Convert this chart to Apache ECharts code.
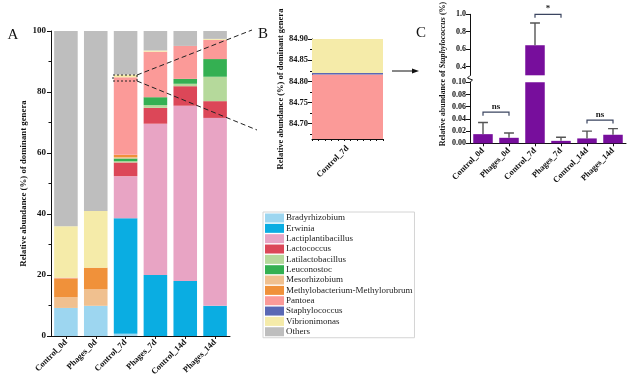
<!DOCTYPE html>
<html><head><meta charset="utf-8">
<script src="https://cdn.jsdelivr.net/npm/echarts@6/dist/echarts.min.js"></script>
<style>html,body{margin:0;padding:0;background:#fff}#c{width:638px;height:387px}</style>
</head><body><div id="c"></div>
<script>
// ---------- data ----------
const groups = ['Control_0d','Phages_0d','Control_7d','Phages_7d','Control_14d','Phages_14d'];
const genera = ['Bradyrhizobium','Erwinia','Lactiplantibacillus','Lactococcus','Latilactobacillus','Leuconostoc','Mesorhizobium','Methylobacterium-Methylorubrum','Pantoea','Staphylococcus','Vibrionimonas','Others'];
const generaColors = ['#9dd6f0','#0aade2','#e8a4c4','#dc4758','#b5d99b','#34b052','#f0c08f','#f0913a','#fb9a98','#5a68b4','#f5eba9','#bebebe'];
// relative abundance (%) of each genus per group
const bradyrhizobium      = [9.2, 9.9, 0.7, 0, 0, 0];
const erwinia             = [0, 0, 37.9, 20.0, 18.0, 9.9];
const lactiplantibacillus = [0, 0, 13.8, 49.6, 57.5, 61.6];
const lactococcus         = [0, 0, 4.5, 5.2, 6.4, 5.5];
const latilactobacillus   = [0, 0, 0.4, 0.9, 0.8, 8.0];
const leuconostoc         = [0, 0, 0.9, 2.6, 1.6, 5.8];
const mesorhizobium       = [3.5, 5.4, 0.4, 0, 0, 0];
const methylobacterium    = [6.2, 7.1, 0.8, 0, 0, 0];
const pantoea             = [0.2, 0, 25.416, 14.9, 10.8, 6.3];
const staphylococcus      = [0.015, 0.009, 0.004, 0.004, 0.008, 0.014];
const vibrionimonas       = [16.9, 18.6, 0.88, 0.4, 0, 0.3];
const others              = [64.0, 59.0, 14.3, 6.4, 4.9, 2.6];
const genusValues = [bradyrhizobium, erwinia, lactiplantibacillus, lactococcus, latilactobacillus, leuconostoc, mesorhizobium, methylobacterium, pantoea, staphylococcus, vibrionimonas, others];
// panel B zoom range
const zoomMin = 84.664, zoomMax = 84.90;
const zoomLabels = [84.70, 84.75, 84.80, 84.85, 84.90];
const zoomMinorTicks = [84.675, 84.725, 84.775, 84.825, 84.875];
// panel C: Staphylococcus relative abundance (%)
const staphMean = [0.015, 0.009, 0.645, 0.004, 0.008, 0.014];
const staphUpper = [0.034, 0.017, 0.900, 0.010, 0.020, 0.024];
const upperLabels = [0.4, 0.6, 0.8, 1.0];
// significance brackets: [from, to, level, label]
const sigLower = [[0, 1, 0.051, 'ns'], [4, 5, 0.038, 'ns']];
const sigUpper = [[2, 3, 1.0, '*']];

// ---------- chart ----------
const SERIF = '"Liberation Serif", "DejaVu Serif", serif';
const chart = echarts.init(document.getElementById('c'), null, {renderer: 'canvas'});
const axisLine = {show: true, lineStyle: {color: '#111', width: 1}};
const lbl = (size) => ({fontFamily: SERIF, fontWeight: 'bold', fontSize: size, color: '#111'});

const series = [];
genera.forEach((g, k) => {
  series.push({name: g, type: 'bar', stack: 'A', xAxisIndex: 0, yAxisIndex: 0,
    data: genusValues[k], itemStyle: {color: generaColors[k]}, barCategoryGap: '21%', animation: false});
});
genera.forEach((g, k) => {
  series.push({name: g, type: 'bar', stack: 'B', xAxisIndex: 1, yAxisIndex: 1, clip: true,
    data: [genusValues[k][2]], itemStyle: {color: generaColors[k]}, barWidth: '100%', animation: false});
});
const purple = '#770e9c';
series.push({type: 'bar', xAxisIndex: 3, yAxisIndex: 3, data: staphMean, clip: true, barCategoryGap: '25%', itemStyle: {color: purple}, animation: false});
series.push({type: 'bar', xAxisIndex: 4, yAxisIndex: 4, data: staphMean, clip: true, barCategoryGap: '25%', itemStyle: {color: purple}, animation: false});

function errRender(params, api) {
  const x = api.value(0), lo = api.value(1), hi = api.value(2);
  const p1 = api.coord([x, lo]), p2 = api.coord([x, hi]);
  const w = api.size([1, 0])[0] * 0.19;
  const st = {stroke: '#555', lineWidth: 1.4};
  return {type: 'group', children: [
    {type: 'line', shape: {x1: p1[0], y1: p1[1], x2: p2[0], y2: p2[1]}, style: st},
    {type: 'line', shape: {x1: p2[0] - w, y1: p2[1], x2: p2[0] + w, y2: p2[1]}, style: st}
  ]};
}
const errData = groups.map((g, i) => [i, staphMean[i], staphUpper[i]]);
series.push({type: 'custom', xAxisIndex: 3, yAxisIndex: 3, clip: true, renderItem: errRender, data: errData, animation: false, z: 5});
series.push({type: 'custom', xAxisIndex: 4, yAxisIndex: 4, clip: true, renderItem: errRender, data: errData, animation: false, z: 5});

function sigRender(params, api) {
  const a = api.coord([api.value(0), api.value(2)]);
  const b = api.coord([api.value(1), api.value(2)]);
  const d = 3.5;
  return {type: 'group', children: [
    {type: 'polyline', shape: {points: [[a[0], a[1] + d], [a[0], a[1]], [b[0], b[1]], [b[0], b[1] + d]]},
      style: {stroke: '#3b4560', lineWidth: 1.2, fill: null}},
    {type: 'text', x: (a[0] + b[0]) / 2, y: a[1] - 1,
      style: {text: api.value(3), textAlign: 'center', textVerticalAlign: 'bottom',
        font: 'bold 9px ' + SERIF, fill: '#222'}}
  ]};
}
series.push({type: 'custom', xAxisIndex: 4, yAxisIndex: 4, clip: false, renderItem: sigRender,
  dimensions: ['a', 'b', 'y', {name: 't', type: 'ordinal'}], data: sigLower, animation: false, z: 6});
series.push({type: 'custom', xAxisIndex: 3, yAxisIndex: 3, clip: false, renderItem: sigRender,
  dimensions: ['a', 'b', 'y', {name: 't', type: 'ordinal'}], data: sigUpper, animation: false, z: 6});

const option = {
  backgroundColor: '#fff',
  animation: false,
  grid: [
    {left: 51, top: 31, width: 179, height: 305},
    {left: 312, top: 39, width: 71, height: 100},
    {left: 470, top: 14.3, width: 156, height: 61},
    {left: 470, top: 82.3, width: 156, height: 61}
  ],
  legend: {
    data: genera, orient: 'vertical', left: 263, top: 212, itemWidth: 19, itemHeight: 9, itemGap: 0.34,
    padding: [1, 2, 1, 2], borderColor: '#d4d4d4', borderWidth: 1, selectedMode: false, icon: 'rect',
    textStyle: {fontFamily: SERIF, fontSize: 9, color: '#222', lineHeight: 10, padding: [0, 0, 0, -3]}
  },
  xAxis: [
    {type: 'category', gridIndex: 0, data: groups, position: 'bottom', axisLine,
      axisTick: {show: true, alignWithLabel: true, length: 3, lineStyle: {color: '#111'}},
      axisLabel: Object.assign({rotate: 45, margin: 5, interval: 0}, lbl(8.5))},
    {type: 'category', gridIndex: 1, data: [groups[2]], position: 'bottom', axisLine,
      axisTick: {show: false},
      axisLabel: Object.assign({rotate: 45, margin: 8}, lbl(8.5))},
    {type: 'value', gridIndex: 1, min: 0, max: 11, interval: 1, position: 'bottom', axisLine: {show: false},
      axisTick: {show: true, length: 2, lineStyle: {color: '#111'}}, axisLabel: {show: false}, splitLine: {show: false}},
    {type: 'category', gridIndex: 2, data: groups, show: false},
    {type: 'category', gridIndex: 3, data: groups, position: 'bottom', axisLine,
      axisTick: {show: true, alignWithLabel: true, length: 3, lineStyle: {color: '#111'}},
      axisLabel: Object.assign({rotate: 45, margin: 6, interval: 0}, lbl(8.5))}
  ],
  yAxis: [
    {type: 'value', gridIndex: 0, min: 0, max: 100, interval: 20, axisLine,
      axisTick: {show: true, length: 4, lineStyle: {color: '#111'}},
      minorTick: {show: true, splitNumber: 2, length: 2.5, lineStyle: {color: '#111'}},
      splitLine: {show: false}, minorSplitLine: {show: false},
      axisLabel: Object.assign({margin: 5}, lbl(9)),
      name: 'Relative abundance (%) of dominant genera', nameLocation: 'middle', nameGap: 19,
      nameTextStyle: lbl(8.8)},
    {type: 'value', gridIndex: 1, min: zoomMin, max: zoomMax, axisLine,
      axisTick: {show: true, length: 4, customValues: zoomLabels, lineStyle: {color: '#111'}},
      splitLine: {show: false},
      axisLabel: Object.assign({margin: 4, customValues: zoomLabels, formatter: v => v.toFixed(2)}, lbl(8.5)),
      name: 'Relative abundance (%) of dominant genera', nameLocation: 'middle', nameGap: 22,
      nameTextStyle: lbl(8.5)},
    {type: 'value', gridIndex: 1, min: zoomMin, max: zoomMax, position: 'left', axisLine: {show: false},
      axisTick: {show: true, length: 2, customValues: zoomMinorTicks, lineStyle: {color: '#111'}},
      axisLabel: {show: false}, splitLine: {show: false}},
    {type: 'value', gridIndex: 2, min: 0.3, max: 1.0, axisLine,
      axisTick: {show: true, length: 4, customValues: upperLabels, lineStyle: {color: '#111'}},
      splitLine: {show: false},
      axisLabel: Object.assign({margin: 4, customValues: upperLabels, formatter: v => v.toFixed(1)}, lbl(8))},
    {type: 'value', gridIndex: 3, min: 0, max: 0.1, interval: 0.02, axisLine,
      axisTick: {show: true, length: 4, lineStyle: {color: '#111'}},
      splitLine: {show: false},
      axisLabel: Object.assign({margin: 4, formatter: v => v.toFixed(2)}, lbl(8))}
  ],
  series,
  graphic: [
    {type: 'text', x: 13, y: 35, style: {text: 'A', font: '15px ' + SERIF, fill: '#111', textAlign: 'center', textVerticalAlign: 'middle'}},
    {type: 'text', x: 263, y: 34, style: {text: 'B', font: '15px ' + SERIF, fill: '#111', textAlign: 'center', textVerticalAlign: 'middle'}},
    {type: 'text', x: 421, y: 33, style: {text: 'C', font: '15px ' + SERIF, fill: '#111', textAlign: 'center', textVerticalAlign: 'middle'}},
    // zoom box and guide lines
    {type: 'rect', shape: {x: 113, y: 75, width: 24, height: 6}, style: {fill: null, stroke: '#222', lineWidth: 1, lineDash: [2, 2]}, z: 10},
    {type: 'line', shape: {x1: 137, y1: 75, x2: 252, y2: 30}, style: {stroke: '#222', lineWidth: 1, lineDash: [5, 3]}, z: 10},
    {type: 'line', shape: {x1: 137, y1: 81, x2: 257, y2: 130}, style: {stroke: '#222', lineWidth: 1, lineDash: [5, 3]}, z: 10},
    // arrow B -> C
    {type: 'line', shape: {x1: 392, y1: 71, x2: 414, y2: 71}, style: {stroke: '#111', lineWidth: 1}},
    {type: 'polygon', shape: {points: [[419, 71], [412, 68.5], [412, 73.5]]}, style: {fill: '#111'}},
    // axis break mark
    {type: 'polyline', shape: {points: [[470, 75.5], [467.5, 78], [472.5, 80], [470, 82.3]]}, style: {stroke: '#111', lineWidth: 1, fill: null}, z: 10},
    // panel C y-axis title
    {type: 'text', x: 443, y: 74, rotation: Math.PI / 2,
      style: {text: '{a|Relative abundance of }{b|Staphylococcus}{a| (%)}', textAlign: 'center', textVerticalAlign: 'middle',
        rich: {a: {fontFamily: SERIF, fontWeight: 'bold', fontSize: 8, fill: '#111'},
               b: {fontFamily: SERIF, fontWeight: 'bold', fontStyle: 'italic', fontSize: 8, fill: '#111'}}}}
  ]
};
chart.setOption(option);
</script></body></html>
